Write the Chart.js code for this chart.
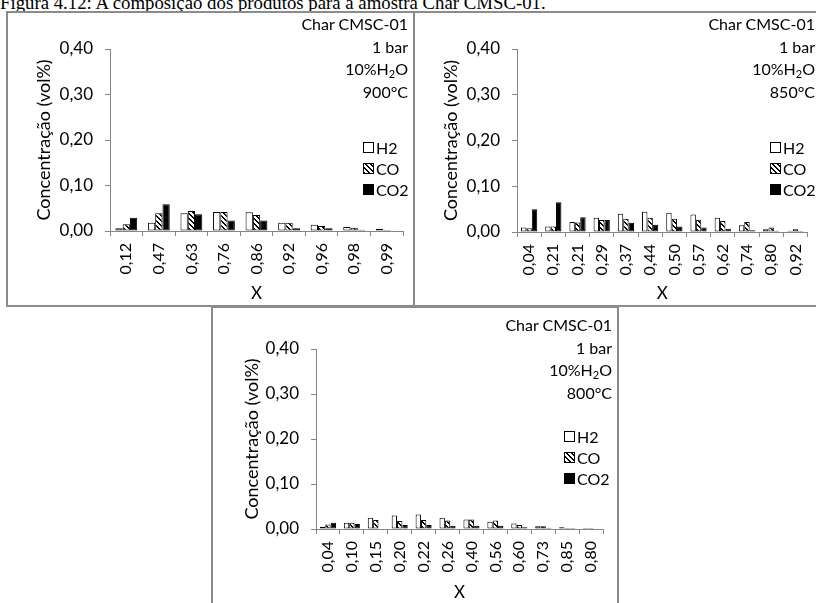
<!DOCTYPE html>
<html>
<head>
<meta charset="utf-8">
<script src="https://cdn.jsdelivr.net/npm/chart.js@4.4.1/dist/chart.umd.min.js"></script>
<style>
  body { margin: 0; width: 816px; height: 603px; overflow: hidden; background: #fff; position: relative; font-family: Lato, sans-serif; }
  .caption { position: absolute; left: 0; top: -7px; font-family: "Liberation Serif", serif; font-size: 18.8px; line-height: 20px; white-space: nowrap; color: #000; }
  .panel { position: absolute; background: #fff; }
  .panel canvas { position: absolute; left: 0; top: 0; }
  .frame { position: absolute; left: 0; top: 0; right: 0; bottom: 0; border: 2px solid #8c8c8c; box-sizing: border-box; pointer-events: none; }
  .note { position: absolute; right: 7px; text-align: right; font-size: 16px; line-height: 22.7px; color: #000; white-space: nowrap; }
  .note sub { font-size: 11px; vertical-align: -3px; line-height: 0; }
  .legend { position: absolute; font-size: 16px; line-height: 21px; color: #000; }
  .legend div { display: flex; align-items: center; height: 21px; }
  .sw { width: 11px; height: 11px; border: 1px solid #000; box-sizing: border-box; margin-right: 2px; }
  .sw.h2 { background: #fff; }
  .sw.co { background: repeating-linear-gradient(45deg, #000 0 1.4px, #fff 1.4px 3.4px); }
  .sw.co2 { background: #000; }
</style>
</head>
<body>
<div class="caption">Figura 4.12: A composição dos produtos para a amostra Char CMSC-01.</div>

<div class="panel" id="pA" style="left:6px; top:11px; width:409px; height:296px;">
  <canvas id="cA" width="409" height="296"></canvas>
  <div class="note" style="top:2px;">Char CMSC-01<br>1 bar<br>10%H<sub>2</sub>O<br>900°C</div>
  <div class="legend" style="left:357px; top:126px;">
    <div><span class="sw h2"></span>H2</div><div><span class="sw co"></span>CO</div><div><span class="sw co2"></span>CO2</div>
  </div>
  <div class="frame"></div>
</div>

<div class="panel" id="pB" style="left:413px; top:11px; width:409px; height:296px;">
  <canvas id="cB" width="409" height="296"></canvas>
  <div class="note" style="top:2px;">Char CMSC-01<br>1 bar<br>10%H<sub>2</sub>O<br>850°C</div>
  <div class="legend" style="left:357px; top:126px;">
    <div><span class="sw h2"></span>H2</div><div><span class="sw co"></span>CO</div><div><span class="sw co2"></span>CO2</div>
  </div>
  <div class="frame"></div>
</div>

<div class="panel" id="pC" style="left:211px; top:306px; width:408px; height:300px;">
  <canvas id="cC" width="408" height="300"></canvas>
  <div class="note" style="top:8px;">Char CMSC-01<br>1 bar<br>10%H<sub>2</sub>O<br>800°C</div>
  <div class="legend" style="left:353px; top:120px;">
    <div><span class="sw h2"></span>H2</div><div><span class="sw co"></span>CO</div><div><span class="sw co2"></span>CO2</div>
  </div>
  <div class="frame"></div>
</div>

<script>
  /* ---------- DATA ---------- */
  const yTickLabels = ["0,00", "0,10", "0,20", "0,30", "0,40"];

  // 900°C
  const xA = ["0,12", "0,47", "0,63", "0,76", "0,86", "0,92", "0,96", "0,98", "0,99"];
  const h2A = [0.006, 0.018, 0.039, 0.042, 0.041, 0.018, 0.014, 0.009, 0.005];
  const coA = [0.015, 0.039, 0.044, 0.042, 0.035, 0.018, 0.011, 0.007, 0.002];
  const co2A = [0.029, 0.059, 0.037, 0.023, 0.023, 0.006, 0.006, 0.003, 0.001];

  // 850°C
  const xB = ["0,04", "0,21", "0,21", "0,29", "0,37", "0,44", "0,50", "0,57", "0,62", "0,74", "0,80", "0,92"];
  const h2B = [0.010, 0.012, 0.022, 0.031, 0.040, 0.044, 0.042, 0.038, 0.031, 0.015, 0.006, 0.003];
  const coB = [0.008, 0.012, 0.021, 0.026, 0.029, 0.031, 0.029, 0.027, 0.024, 0.022, 0.010, 0.006];
  const co2B = [0.050, 0.065, 0.032, 0.026, 0.020, 0.016, 0.012, 0.010, 0.007, 0.004, 0.003, 0.002];

  // 800°C
  const xC = ["0,04", "0,10", "0,15", "0,20", "0,22", "0,26", "0,40", "0,56", "0,60", "0,73", "0,85", "0,80"];
  const h2C = [0.005, 0.014, 0.025, 0.030, 0.032, 0.025, 0.021, 0.016, 0.012, 0.006, 0.004, 0.002];
  const coC = [0.010, 0.014, 0.020, 0.018, 0.020, 0.019, 0.021, 0.019, 0.009, 0.006, 0.002, 0.002];
  const co2C = [0.014, 0.011, 0.001, 0.009, 0.009, 0.007, 0.007, 0.007, 0.004, 0.003, 0.002, 0.001];

  /* ---------- HATCH PATTERN ---------- */
  function makeHatch() {
    const size = 5;
    const c = document.createElement("canvas");
    c.width = size;
    c.height = size;
    const g = c.getContext("2d");
    g.fillStyle = "#fff";
    g.fillRect(0, 0, size, size);
    g.fillStyle = "#000";
    for (let y = 0; y < size; y++) {
      for (let x = 0; x < size; x++) {
        if ((((x - y) % size) + size) % size < 2) g.fillRect(x, y, 1, 1);
      }
    }
    return g.createPattern(c, "repeat");
  }

  const hatch = makeHatch();
  const axisGray = "#868686";
  const font = "Lato";

  /* ---------- CHART ---------- */
  function drawChart(id, cats, h2, co, co2, box) {
    const canvas = document.getElementById(id);
    const W = canvas.width;
    const H = canvas.height;

    const bar = { borderColor: "#000", borderWidth: 1, borderSkipped: false };

    new Chart(canvas.getContext("2d"), {
      type: "bar",
      data: {
        labels: cats,
        datasets: [
          { label: "H2", data: h2, backgroundColor: "#fff", ...bar },
          { label: "CO", data: co, backgroundColor: hatch, ...bar },
          { label: "CO2", data: co2, backgroundColor: "#000", ...bar }
        ]
      },
      options: {
        responsive: false,
        animation: false,
        devicePixelRatio: 1,
        layout: { padding: { left: 0, right: W - box.right, top: box.top, bottom: 0 } },
        datasets: { bar: { categoryPercentage: 0.67, barPercentage: 1 } },
        plugins: { legend: { display: false }, tooltip: { enabled: false } },
        scales: {
          x: {
            grid: { drawOnChartArea: false, drawTicks: true, tickLength: 5, color: axisGray, offset: true },
            border: { color: axisGray },
            ticks: { minRotation: 90, maxRotation: 90, autoSkip: false, padding: 7, color: "#000", font: { family: font, size: 16 } },
            title: { display: true, text: "X", color: "#000", font: { family: font, size: 17 }, padding: { top: 0, bottom: box.xTitlePad } },
            afterFit: s => { s.height = H - box.bottom; }
          },
          y: {
            min: 0,
            max: 0.4,
            grid: { drawOnChartArea: false, drawTicks: true, tickLength: 5, color: axisGray },
            border: { color: axisGray },
            ticks: { stepSize: 0.1, padding: 12, color: "#000", font: { family: font, size: 17 }, callback: (v, i) => yTickLabels[i] },
            title: { display: true, text: "Concentração (vol%)", color: "#000", font: { family: font, size: 18 }, padding: { top: box.yTitlePad, bottom: 0 } },
            afterFit: s => { s.width = box.left; }
          }
        }
      }
    });
  }

  drawChart("cA", xA, h2A, coA, co2A, { left: 104, right: 397, top: 38, bottom: 220, xTitlePad: 3, yTitlePad: 27 });
  drawChart("cB", xB, h2B, coB, co2B, { left: 104, right: 399, top: 38, bottom: 221, xTitlePad: 3, yTitlePad: 27 });
  drawChart("cC", xC, h2C, coC, co2C, { left: 105, right: 392, top: 43, bottom: 223, xTitlePad: 3, yTitlePad: 30 });
</script>
</body>
</html>
